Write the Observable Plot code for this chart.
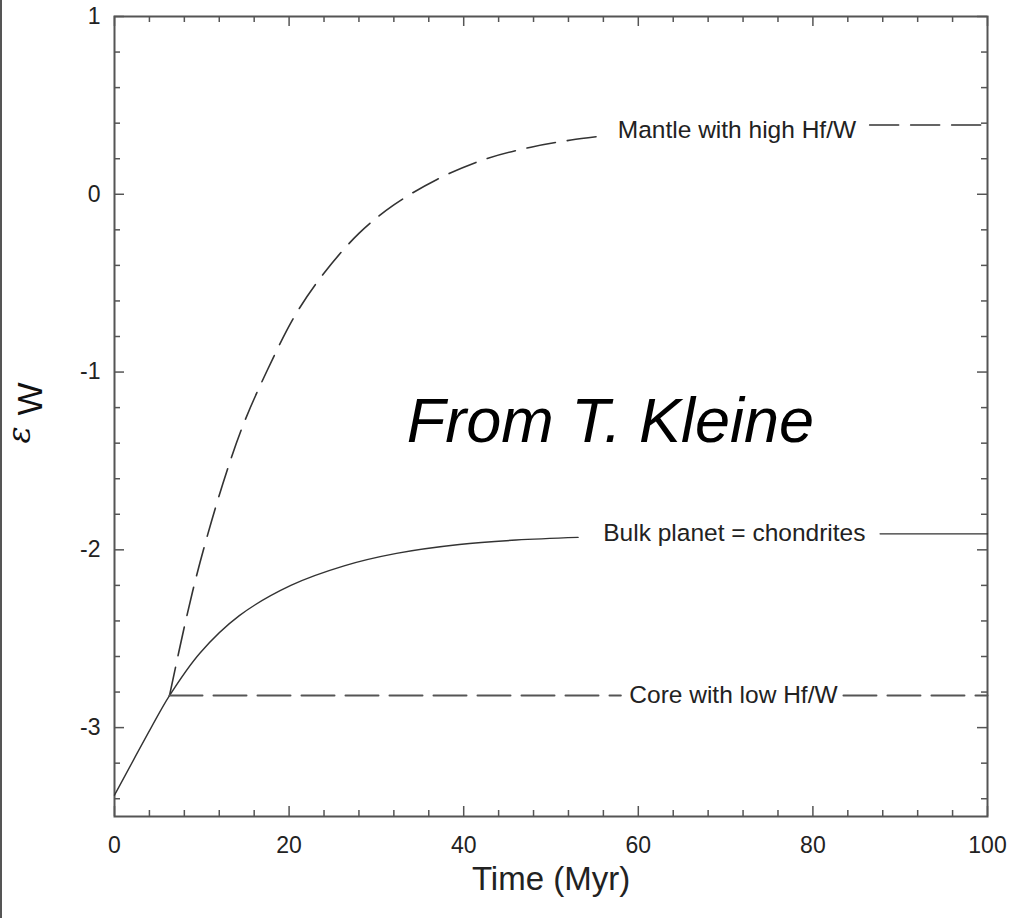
<!DOCTYPE html>
<html>
<head>
<meta charset="utf-8">
<script src="https://cdn.jsdelivr.net/npm/d3@7"></script>
<script src="https://cdn.jsdelivr.net/npm/@observablehq/plot@0.6"></script>
<style>
  html, body { margin: 0; padding: 0; background: #fff; }
  #wrap { position: relative; width: 1009px; height: 918px; }
  #edge { position: absolute; left: 0; top: 0; width: 2px; height: 918px; background: #555; }
</style>
</head>
<body>
<div id="wrap"><div id="edge"></div></div>
<script>
// ---- data ----
const xMajor = [0, 20, 40, 60, 80, 100];
const xMinor = [4, 8, 12, 16, 24, 28, 32, 36, 44, 48, 52, 56, 64, 68, 72, 76, 84, 88, 92, 96];
const yMajor = [1, 0, -1, -2, -3];
const yMinor = [0.8, 0.6, 0.4, 0.2, -0.2, -0.4, -0.6, -0.8, -1.2, -1.4, -1.6, -1.8,
                -2.2, -2.4, -2.6, -2.8, -3.2, -3.4];

// Bulk planet = chondrites (solid)
const bulkTime = [0, 2.2, 4.2, 6.3, 9.8, 14.3, 20.2, 26.3, 32.3, 39.5, 46.0, 53.1];
const bulkEps  = [-3.38, -3.18, -3.00, -2.82, -2.58, -2.37, -2.20, -2.09, -2.02, -1.97, -1.945, -1.93];
const bulkTailTime = [87.7, 100];
const bulkTailEps  = [-1.91, -1.91];

// Mantle with high Hf/W (dashed)
const mantleTime = [6.3, 8.2, 9.8, 12.4, 14.8, 17.5, 20.7, 23.9, 28.0, 32.0, 37.0, 42.3, 47.7, 52.3, 56.3];
const mantleEps  = [-2.82, -2.39, -2.07, -1.63, -1.29, -0.99, -0.68, -0.45, -0.22, -0.06, 0.085, 0.195, 0.265, 0.305, 0.33];
const mantleTailTime = [86.5, 100];
const mantleTailEps  = [0.39, 0.39];

// Core with low Hf/W (dashed)
const coreTime = [6.3, 58.0];
const coreEps  = [-2.82, -2.82];
const coreTailTime = [83.5, 100];
const coreTailEps  = [-2.82, -2.82];

// curve labels
const labelText = ["Mantle with high Hf/W", "Bulk planet = chondrites", "Core with low Hf/W"];
const labelTime = [71.3, 71.0, 70.9];
const labelEps  = [0.36, -1.905, -2.82];

const zip = (xs, ys) => xs.map((x, i) => ({t: x, e: ys[i]}));
const labels = labelText.map((s, i) => ({s, t: labelTime[i], e: labelEps[i]}));

const W = 1009, H = 918;
const mt = 16, mb = 102, ml = 114, mr = 22;
const ph = H - mt - mb, pw = W - ml - mr;
const ink = "#333";
const dash = "29,12";

const chart = Plot.plot({
  width: W, height: H,
  marginTop: mt, marginBottom: mb, marginLeft: ml, marginRight: mr,
  style: {fontFamily: "'Liberation Sans', Arial, sans-serif", fontSize: "23px", color: "#222", background: "transparent"},
  x: {domain: [0, 100], ticks: xMajor, tickSize: 0, tickPadding: 20, tickFormat: d => String(d), label: null},
  y: {domain: [-3.5, 1], ticks: yMajor, tickSize: 0, tickPadding: 14, tickFormat: d => String(d), label: null},
  marks: [
    Plot.frame({stroke: "#555", strokeWidth: 2}),
    // inward ticks on all four sides
    Plot.tickX(xMajor, {x: d => d, insetTop: ph - 10, stroke: "#555", strokeWidth: 1.5}),
    Plot.tickX(xMajor, {x: d => d, insetBottom: ph - 10, stroke: "#555", strokeWidth: 1.5}),
    Plot.tickX(xMinor, {x: d => d, insetTop: ph - 6, stroke: "#555", strokeWidth: 1.5}),
    Plot.tickX(xMinor, {x: d => d, insetBottom: ph - 6, stroke: "#555", strokeWidth: 1.5}),
    Plot.tickY(yMajor, {y: d => d, insetRight: pw - 10, stroke: "#555", strokeWidth: 1.5}),
    Plot.tickY(yMajor, {y: d => d, insetLeft: pw - 10, stroke: "#555", strokeWidth: 1.5}),
    Plot.tickY(yMinor, {y: d => d, insetRight: pw - 6, stroke: "#555", strokeWidth: 1.5}),
    Plot.tickY(yMinor, {y: d => d, insetLeft: pw - 6, stroke: "#555", strokeWidth: 1.5}),
    // curves
    Plot.line(zip(bulkTime, bulkEps), {x: "t", y: "e", curve: "catmull-rom", stroke: ink, strokeWidth: 1.4}),
    Plot.line(zip(bulkTailTime, bulkTailEps), {x: "t", y: "e", stroke: ink, strokeWidth: 1.4}),
    Plot.line(zip(mantleTime, mantleEps), {x: "t", y: "e", curve: "catmull-rom", stroke: ink, strokeWidth: 1.6, strokeDasharray: dash}),
    Plot.line(zip(mantleTailTime, mantleTailEps), {x: "t", y: "e", stroke: ink, strokeWidth: 1.6, strokeDasharray: dash}),
    Plot.line(zip(coreTime, coreEps), {x: "t", y: "e", stroke: "#555", strokeWidth: 2, strokeDasharray: "33,11"}),
    Plot.line(zip(coreTailTime, coreTailEps), {x: "t", y: "e", stroke: "#555", strokeWidth: 2, strokeDasharray: "33,11"}),
    // curve labels
    Plot.text(labels, {x: "t", y: "e", text: "s", fontSize: 24.5, fill: "#222", textAnchor: "middle", lineAnchor: "middle"}),
    // watermark
    Plot.text(["From T. Kleine"], {frameAnchor: "middle", dx: 610 - (ml + pw / 2), dy: 421 - (mt + ph / 2),
      text: d => d, fontSize: 63, fontStyle: "italic", fill: "#000", lineAnchor: "middle"}),
    // axis titles
    Plot.text(["Time (Myr)"], {frameAnchor: "bottom", dy: 63, text: d => d, fontSize: 33, fill: "#222", lineAnchor: "middle"}),
    Plot.text(["ε"], {frameAnchor: "left", dx: -95, dy: 27, rotate: -90, text: d => d, fontSize: 32,
      fontFamily: "'DejaVu Serif', serif", fontStyle: "italic", fill: "#111", lineAnchor: "middle"}),
    Plot.text(["W"], {frameAnchor: "left", dx: -84, dy: -1, rotate: -90, text: d => d, fontSize: 35,
      fill: "#111", lineAnchor: "middle"})
  ]
});

document.getElementById("wrap").appendChild(chart);
chart.style.position = "absolute";
chart.style.left = "0";
chart.style.top = "0";
</script>
</body>
</html>
